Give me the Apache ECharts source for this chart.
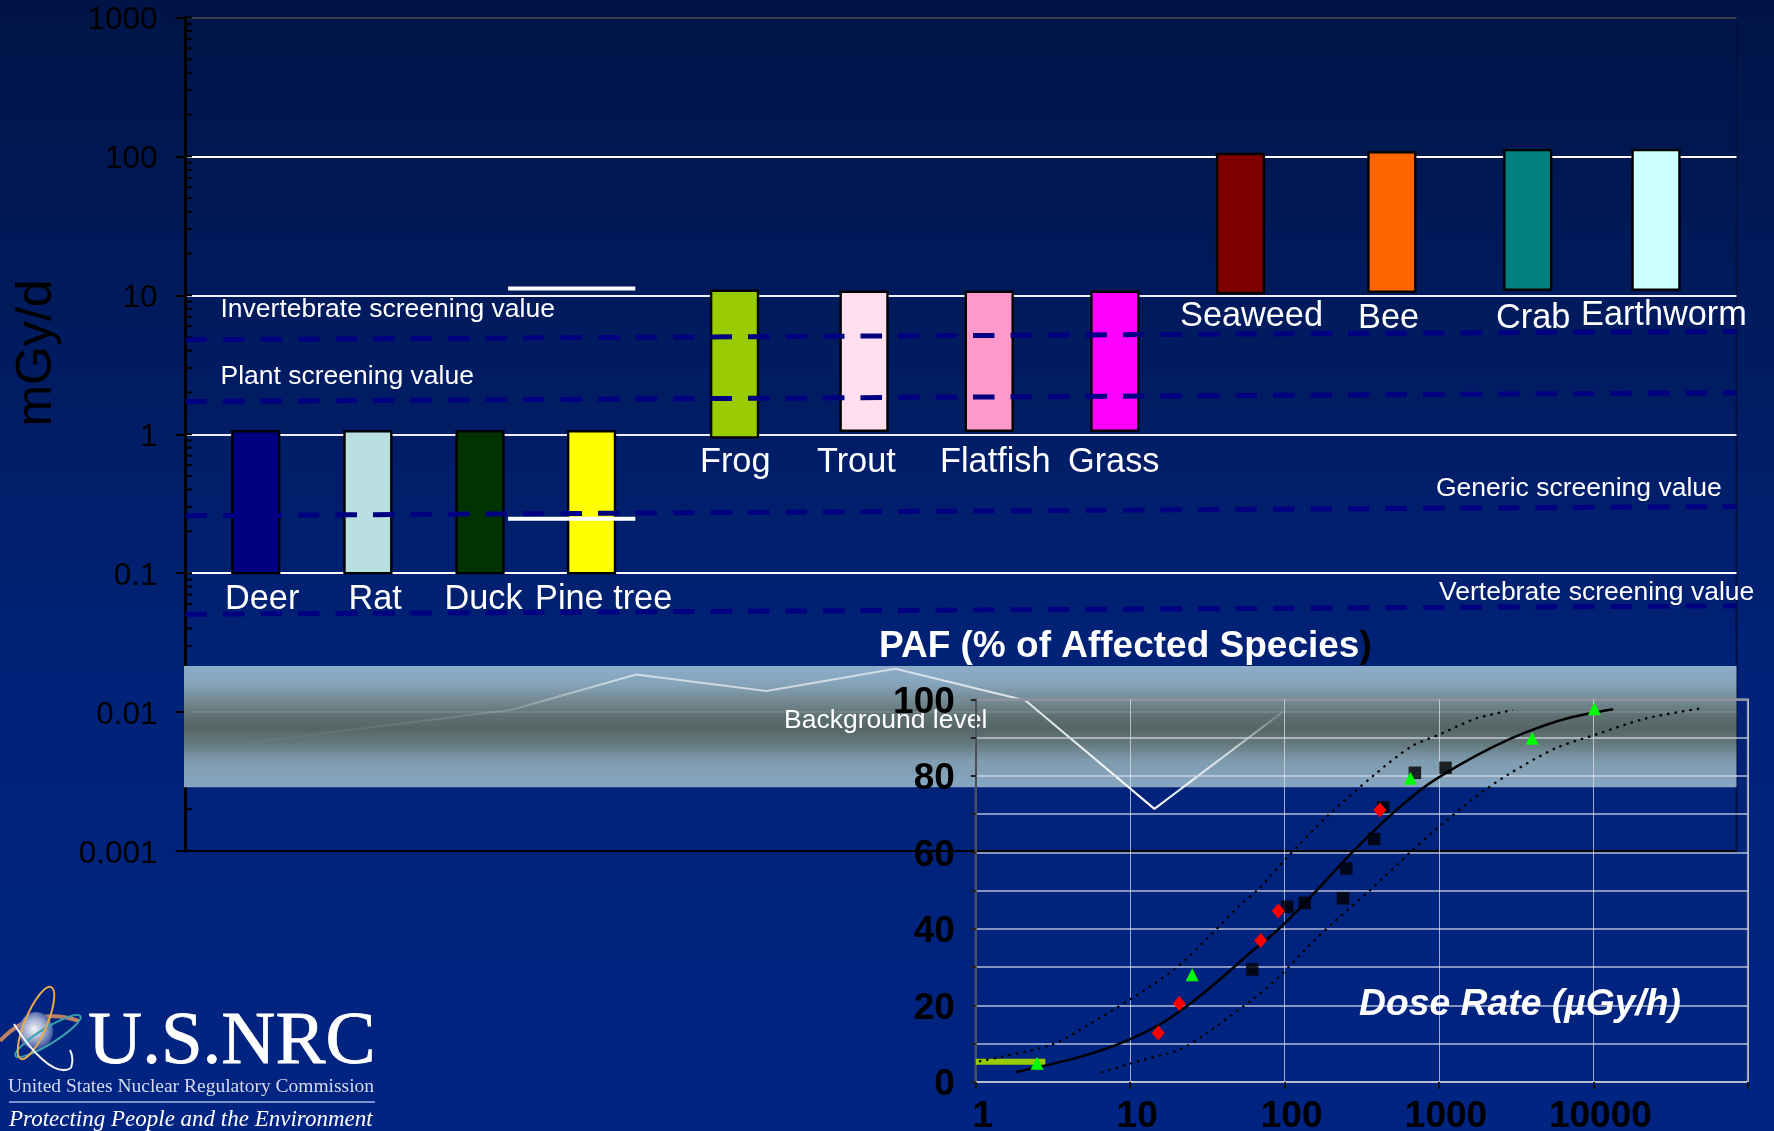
<!DOCTYPE html>
<html><head><meta charset="utf-8">
<style>html,body{margin:0;padding:0;background:#002280;overflow:hidden}#c{width:1774px;height:1131px}</style>
<script src="https://cdn.jsdelivr.net/npm/echarts@6/dist/echarts.min.js"></script>
</head><body><div id="c"></div>
<script>
// ---- upper chart data (x is percent across the plot, y in mGy/d)
const categories = ['Deer','Rat','Duck','Pine tree','Frog','Trout','Flatfish','Grass','Seaweed','Bee','Crab','Earthworm'];
const barX    = [4.53,11.76,18.99,26.18,35.4,43.75,51.82,59.92,68.02,77.78,86.54,94.81];
const barLow  = [0.1,0.1,0.1,0.1,0.95,1.06,1.06,1.06,10.4,10.6,11,11];
const barHigh = [1.05,1.05,1.05,1.05,10.8,10.6,10.6,10.6,104,107,111,111];
const barColors = ['#000080','#b9dfe0','#003300','#ffff00','#99cc00','#ffdfee','#ff99cc','#ff00ff','#800000','#ff6600','#008080','#ccffff'];
const invertebrateLine = [[0,4.79],[100,5.5]];
const plantLine        = [[0,1.72],[100,1.99]];
const genericLine      = [[0,0.259],[100,0.302]];
const vertebrateLine   = [[0,0.0506],[100,0.0582]];
const upperShort = [[20.8,11.2],[29,11.2]];
const lowerShort = [[20.8,0.246],[29,0.246]];
const backgroundBand = [0,100,0.00288,0.0215];
const backgroundTrace = [[4.09,0.00601],[21.05,0.01039],[29.05,0.01866],[37.45,0.01416],[45.78,0.0205],[54.16,0.01212],[62.47,0.00201],[70.76,0.01005]];
const decades = [0.001,0.01,0.1,1,10,100];
const mantissas = [1,2,3,4,5,6,7,8,9];
// ---- inset chart data (dose rate, PAF)
const solidCurve = [[1.82,2.6],[4.31,6.1],[8.13,9.7],[15.3,14.9],[25.4,21],[38.8,27.1],[59.2,33.6],[83,38.4],[116,44],[178,51.9],[271,59.8],[450,68.5],[813,77.2],[1349,82.8],[2239,87.6],[3715,91.5],[6714,95],[13430,97.4]];
const upperCurve = [[0.488,2.5],[1.03,5.3],[3.08,9.7],[5.33,14.9],[10,21.6],[19.7,29.7],[34.2,38.9],[50,45.8],[67,50.2],[98,57.6],[193,69.8],[380,80.2],[658,87.6],[1047,91.1],[1738,95],[3013,97.2]];
const lowerCurve = [[6.47,2.5],[11.9,5.7],[20.6,8.4],[30.1,12.3],[59.2,21],[90.4,27.1],[138,34.9],[210,41.9],[349,49.7],[658,60.2],[1000,66.7],[1738,74.6],[2767,80.2],[5675,87.2],[10233,90.7],[21928,95],[49431,97.6]];
const blackSquares = [[61.7,29.4],[104,45.8],[135,46.8],[239,48],[251,55.8],[380,63.5],[435,71.8],[698,80.8],[1102,82.1]];
const redDiamonds  = [[15.2,12.8],[20.8,20.5],[70,37],[91,44.7],[414,71.1]];
const greenTriangles = [[2.49,4.9],[25.2,28],[653,79.4],[4018,89.8],[10160,97.5]];
const greenBar = [[1,5.3],[2.82,5.3]];

const F='"Liberation Sans",Arial,sans-serif', S='"Liberation Serif","Times New Roman",serif';
const chart = echarts.init(document.getElementById('c'),null,{width:1774,height:1131});
const minorTicks=[]; decades.forEach(d=>mantissas.forEach(m=>minorTicks.push([0,+(d*m).toPrecision(3)]))); minorTicks.push([0,1000]);

const txt=(text,x,y,size,o={})=>({type:'text',x,y,z:o.z||50,style:Object.assign({text,fill:'#fff',font:`${o.weight||'normal'} ${size}px ${F}`,verticalAlign:'middle'},o.style||{}),rotation:o.rotation||0});
const dashLine=(data)=>({type:'line',xAxisIndex:0,yAxisIndex:0,data,showSymbol:false,symbol:'none',z:4,silent:true,lineStyle:{color:'#000080',width:5,type:[21.5,16]}});

const labelPos=[[225,600],[348.5,600],[444.5,600],[535,600],[700,463],[817,463],[940,463],[1068,463],[1180,317],[1358,318.5],[1496,318.5],[1581,315.5]];

const option={
 animation:false,
 backgroundColor:new echarts.graphic.LinearGradient(0,0,0,1,[{offset:0,color:'#001446'},{offset:0.3,color:'#001b5f'},{offset:0.6,color:'#002278'},{offset:1,color:'#002482'}]),
 textStyle:{fontFamily:F},
 grid:[
  {left:185.5,top:17.5,width:1551,height:833.5,show:true,borderColor:'#00103f',borderWidth:2,backgroundColor:'transparent',containLabel:false,outerBoundsMode:'none'},
  {left:975.8,top:699.3,width:772,height:382.7,show:true,borderColor:'#8d929c',borderWidth:2,backgroundColor:'transparent',z:5,containLabel:false,outerBoundsMode:'none'}
 ],
 xAxis:[
  {gridIndex:0,type:'value',min:0,max:100,show:false},
  {gridIndex:1,type:'log',logBase:10,min:1,max:100000,z:5,
   axisLine:{show:true,lineStyle:{color:'#b9bfcc',width:2}},
   axisTick:{show:true,length:7,lineStyle:{color:'#111',width:2}},
   minorTick:{show:false},
   splitLine:{show:true,lineStyle:{color:'rgba(225,228,235,0.7)',width:1}},
   axisLabel:{show:true,color:'#000',fontFamily:F,fontWeight:'bold',fontSize:37,margin:16,padding:[0,0,0,14],hideOverlap:false,showMaxLabel:true,
     formatter:v=>v>=99999?'':String(Math.round(v))}}
 ],
 yAxis:[
  {gridIndex:0,type:'log',logBase:10,min:0.001,max:1000,
   axisLine:{show:true,lineStyle:{color:'#000',width:3}},
   axisTick:{show:true,length:10,lineStyle:{color:'#000',width:2}},
   minorTick:{show:false},
   splitLine:{show:true,lineStyle:{color:['#000','rgba(255,255,255,0.3)','#fff','#eef','#eef','#fff','#3a3f4a'],width:2}},
   axisLabel:{color:'#000',fontFamily:F,fontSize:31.5,margin:28,verticalAlign:'top',lineHeight:6,formatter:v=>String(+(+v).toPrecision(3))}},
  {gridIndex:1,type:'value',min:0,max:100,interval:10,z:5,
   axisLine:{show:true,lineStyle:{color:'#4a4f58',width:2}},
   axisTick:{show:true,length:5,lineStyle:{color:'#222',width:2}},
   splitLine:{show:true,lineStyle:{color:['#c8ccd6','rgba(215,220,232,0.62)','rgba(215,220,232,0.62)','rgba(215,220,232,0.62)','rgba(215,220,232,0.62)','rgba(215,220,232,0.62)','rgba(215,220,232,0.62)','rgba(215,220,232,0.62)','rgba(215,220,232,0.62)','rgba(215,220,232,0.62)','#8d929c'],width:2}},
   axisLabel:{color:'#000',fontFamily:F,fontWeight:'bold',fontSize:37,margin:21,verticalAlign:'top',lineHeight:6,showMaxLabel:true,hideOverlap:false,formatter:v=>v%20===0?String(v):''}}
 ],
 series:[
  {type:'custom',name:'inner ticks',xAxisIndex:0,yAxisIndex:0,z:1,silent:true,clip:false,data:minorTicks,
   renderItem:(p,api)=>{const c=api.coord([0,api.value(1)]);return{type:'line',shape:{x1:c[0],y1:c[1],x2:c[0]+6.5,y2:c[1]},style:{stroke:'#000',lineWidth:2}}}},
  {type:'custom',name:'Background',xAxisIndex:0,yAxisIndex:0,z:2,silent:true,clip:false,data:[backgroundBand],encode:{x:[0,1],y:[2,3]},
   renderItem:(p,api)=>{const a=api.coord([api.value(0),api.value(3)]),b=api.coord([api.value(1),api.value(2)]);
    return{type:'rect',shape:{x:a[0]-1.5,y:a[1],width:b[0]-a[0]+1.5,height:b[1]-a[1]},
     style:{fill:new echarts.graphic.LinearGradient(0,0,0,1,[{offset:0,color:'#8cadc9'},{offset:0.14,color:'#86a5bc'},{offset:0.3,color:'#72878f'},{offset:0.42,color:'#5d6f71'},{offset:0.52,color:'#566667'},{offset:0.64,color:'#64797d'},{offset:0.78,color:'#7f9bae'},{offset:1,color:'#86a6c2'}])}}}},
  {type:'line',name:'0.01',xAxisIndex:0,yAxisIndex:0,z:3,silent:true,symbol:'none',data:[[0.4,0.01],[100,0.01]],lineStyle:{color:'rgba(255,255,255,0.1)',width:2}},
  {type:'line',name:'Background trace',xAxisIndex:0,yAxisIndex:0,z:3,silent:true,symbol:'none',data:backgroundTrace,
   lineStyle:{width:2,color:new echarts.graphic.LinearGradient(0,0,1,0,[{offset:0,color:'rgba(255,255,255,0.02)'},{offset:0.25,color:'rgba(255,255,255,0.15)'},{offset:0.37,color:'rgba(255,255,255,0.6)'},{offset:0.62,color:'rgba(255,255,255,0.6)'},{offset:0.8,color:'rgba(255,255,255,0.85)'},{offset:0.87,color:'rgba(255,255,255,1)'},{offset:0.95,color:'rgba(255,255,255,0.65)'},{offset:1,color:'rgba(255,255,255,0.1)'}])}},
  {type:'line',name:'short upper',xAxisIndex:0,yAxisIndex:0,z:3,silent:true,symbol:'none',data:upperShort,lineStyle:{color:'#fff',width:4}},
  {type:'line',name:'short lower',xAxisIndex:0,yAxisIndex:0,z:3,silent:true,symbol:'none',data:lowerShort,lineStyle:{color:'#fff',width:4}},
  {type:'custom',name:'Bars',xAxisIndex:0,yAxisIndex:0,z:3,silent:true,encode:{x:0,y:[1,2]},
   data:categories.map((c,i)=>({name:c,value:[barX[i],barLow[i],barHigh[i]],itemStyle:{color:barColors[i]}})),
   renderItem:(p,api)=>{const a=api.coord([api.value(0),api.value(2)]),b=api.coord([api.value(0),api.value(1)]),w=api.size([3.02,0])[0];
    return{type:'rect',shape:{x:a[0]-w/2,y:a[1],width:w,height:b[1]-a[1]},style:{fill:api.visual('color'),stroke:'#000',lineWidth:2.4}}}},
  dashLine(invertebrateLine),dashLine(plantLine),dashLine(genericLine),dashLine(vertebrateLine),
  {type:'line',name:'green bar',xAxisIndex:1,yAxisIndex:1,z:6,silent:true,symbol:'none',data:greenBar,lineStyle:{color:'#99cc00',width:6}},
  {type:'line',name:'fit',xAxisIndex:1,yAxisIndex:1,z:7,silent:true,symbol:'none',smooth:0.3,data:solidCurve,lineStyle:{color:'#000',width:2.5}},
  {type:'line',name:'upper',xAxisIndex:1,yAxisIndex:1,z:7,silent:true,symbol:'none',clip:false,smooth:0.3,data:upperCurve,lineStyle:{color:'#000',width:2.2,type:[2.5,5]}},
  {type:'line',name:'lower',xAxisIndex:1,yAxisIndex:1,z:7,silent:true,symbol:'none',clip:false,smooth:0.3,data:lowerCurve,lineStyle:{color:'#000',width:2.2,type:[2.5,5]}},
  {type:'scatter',name:'squares',xAxisIndex:1,yAxisIndex:1,z:8,silent:true,symbol:'rect',symbolSize:12.5,data:blackSquares,itemStyle:{color:'#000'}},
  {type:'scatter',name:'triangles',xAxisIndex:1,yAxisIndex:1,z:8,silent:true,symbol:'triangle',symbolSize:13,data:greenTriangles,itemStyle:{color:'#00ff00',opacity:1}},
  {type:'scatter',name:'diamonds',xAxisIndex:1,yAxisIndex:1,z:9,silent:true,symbol:'diamond',symbolSize:[13,15],data:redDiamonds,itemStyle:{color:'#ff0000',opacity:1}}
 ],
 graphic:{elements:[
  txt('mGy/d',37,353,50,{rotation:Math.PI/2,style:{fill:'#000',align:'center'}}),
  ...categories.map((c,i)=>txt(c,labelPos[i][0],labelPos[i][1],34.3)),
  txt('Invertebrate screening value',220.5,310,26.5),
  txt('Plant screening value',220.5,377,26.5),
  txt('Generic screening value',1436,488.5,26.5),
  txt('Vertebrate screening value',1439,592.5,26.5),
  txt('Background level',784,720.5,26.5,{z:3}),
  {type:'text',x:879,y:647,z:50,style:{text:'{a|PAF (% of Affected Species}{b|)}',verticalAlign:'middle',rich:{a:{fill:'#fff',font:`bold 37px ${F}`},b:{fill:'#000',font:`bold 37px ${F}`}}}},
  txt('Dose Rate (µGy/h)',1359,1005,37.3,{weight:'italic bold'}),
  // logo
  {type:'bezierCurve',z:40,shape:{x1:0,y1:1041,cpx1:25,cpy1:1014,cpx2:55,cpy2:1012,x2:79,y2:1021},style:{fill:'none',stroke:'#b98063',lineWidth:4}},
  {type:'ellipse',z:41,shape:{cx:36,cy:1031,rx:17,ry:19},style:{fill:new echarts.graphic.RadialGradient(0.45,0.45,0.6,[{offset:0,color:'#f4f6fb'},{offset:0.55,color:'#9aa8cf'},{offset:1,color:'#2f4a98'}])}},
  {type:'ellipse',z:42,shape:{cx:48,cy:1036,rx:38,ry:8},rotation:0.55,originX:48,originY:1036,style:{fill:'none',stroke:'#3aa3ad',lineWidth:2}},
  {type:'ellipse',z:42,shape:{cx:36,cy:1023,rx:11,ry:39},rotation:-0.4,originX:36,originY:1023,style:{fill:'none',stroke:'#e8a94f',lineWidth:2}},
  {type:'bezierCurve',z:42,shape:{x1:14,y1:1024,cpx1:30,cpy1:1050,cpx2:55,cpy2:1078,x2:71,y2:1068},style:{fill:'none',stroke:'#f2f4f8',lineWidth:2}},
  {type:'bezierCurve',z:42,shape:{x1:71,y1:1068,cpx1:73,cpy1:1062,cpx2:73,cpy2:1056,x2:70,y2:1050},style:{fill:'none',stroke:'#f2f4f8',lineWidth:2}},
  {type:'text',x:88,y:1043,z:50,style:{text:'U.S.NRC',fill:'#fff',stroke:'#fff',lineWidth:0.8,font:`normal 75px ${S}`,verticalAlign:'middle'}},
  {type:'text',x:8,y:1087,z:50,style:{text:'United States Nuclear Regulatory Commission',fill:'#d5dbef',font:`normal 19.5px ${S}`,verticalAlign:'middle'}},
  {type:'line',z:50,shape:{x1:9,y1:1102,x2:375,y2:1102},style:{stroke:'#7f8fd0',lineWidth:2}},
  {type:'text',x:9,y:1120,z:50,style:{text:'Protecting People and the Environment',fill:'#fff',font:`italic 23px ${S}`,verticalAlign:'middle'}}
 ]}
};
chart.setOption(option);
</script></body></html>
